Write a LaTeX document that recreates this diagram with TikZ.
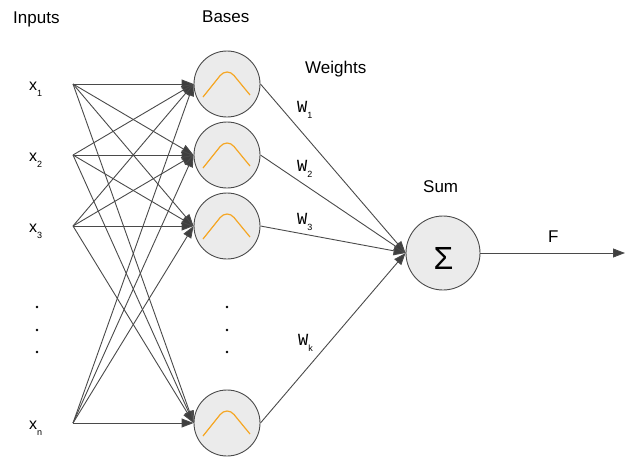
\documentclass[tikz,border=0pt]{standalone}
\usepackage{fontspec}
\setmainfont{Liberation Sans}
\setmonofont{Liberation Mono}
\usetikzlibrary{arrows.meta}
\definecolor{basefill}{HTML}{EBEBEB}
\definecolor{edgegray}{HTML}{4A4A4A}
\definecolor{bumporange}{HTML}{F5A623}
\tikzset{
  unit/.style={circle,draw=edgegray,fill=basefill,inner sep=0pt,line width=0.9pt},
  link/.style={draw=edgegray,line width=0.9pt,-{Triangle[length=12pt,width=9pt,fill=edgegray!85!black]}},
  head/.style={anchor=base west,inner sep=0pt,font=\fontsize{17}{20}\selectfont},
  xlbl/.style={anchor=base west,inner sep=0pt,font=\fontsize{16}{18}\selectfont},
  wlbl/.style={anchor=base west,inner sep=0pt,font=\ttfamily\fontsize{17}{18}\selectfont},
  vdot/.style={circle,fill=black,inner sep=0pt,minimum size=2.8pt}
}
\newcommand{\lowsub}[1]{\raisebox{-6pt}{\fontsize{9}{9}\selectfont\rmfamily #1}}
\begin{document}
\begin{tikzpicture}[x=1pt,y=-1pt]
    \useasboundingbox (0,0) rectangle (640,466);
    \node[head] (inputs) at (13,23) {Inputs};
    \node[head] (bases) at (202,22) {Bases};
    \node[head] (weights) at (305,73) {Weights};
    \node[head] (sumlbl) at (423,192) {Sum};
    \foreach \i/\y/\s in {1/84/1,2/155/2,3/226/3,4/423/n}{
        \coordinate (in\i) at (73,\y);
        \node[xlbl] (xl\i) at (29,\y+6) {x\lowsub{\s}};
        \node[unit,minimum size=66pt] (b\i) at (227,\y) {};
        \draw[bumporange,line width=1.2pt,rounded corners=11pt]([shift={(-24,13)}]b\i.center)--([shift={(0,-17)}]b\i.center)--([shift={(23,11)}]b\i.center);
    }
    \foreach \y [count=\k] in {307,330,352}{
        \node[vdot] (idot\k) at (37,\y) {};
        \node[vdot] (bdot\k) at (227,\y) {};
    }
    \foreach \i in {1,...,4}
        \foreach \j in {1,...,4}
            \draw[link] (in\i) -- (b\j.west);
    \node[unit,minimum size=74pt] (sum) at (443,253) {};
    \node[anchor=base,inner sep=0pt,font=\fontsize{32}{32}\selectfont] (sigma) at (443.5,269) {Σ};
    \foreach \i in {1,...,4}
        \draw[link] (b\i.east) -- (sum.west);
    \coordinate (out) at (625,253);
    \draw[link] (sum.east) -- (out);
    \node[head] (flbl) at (548,242) {F};
    \node[wlbl] (w1) at (297,112) {W\lowsub{1}};
    \node[wlbl] (w2) at (297,171) {W\lowsub{2}};
    \node[wlbl] (w3) at (297,224) {W\lowsub{3}};
    \node[wlbl] (wk) at (298,345) {W\lowsub{k}};
\end{tikzpicture}
\end{document}
